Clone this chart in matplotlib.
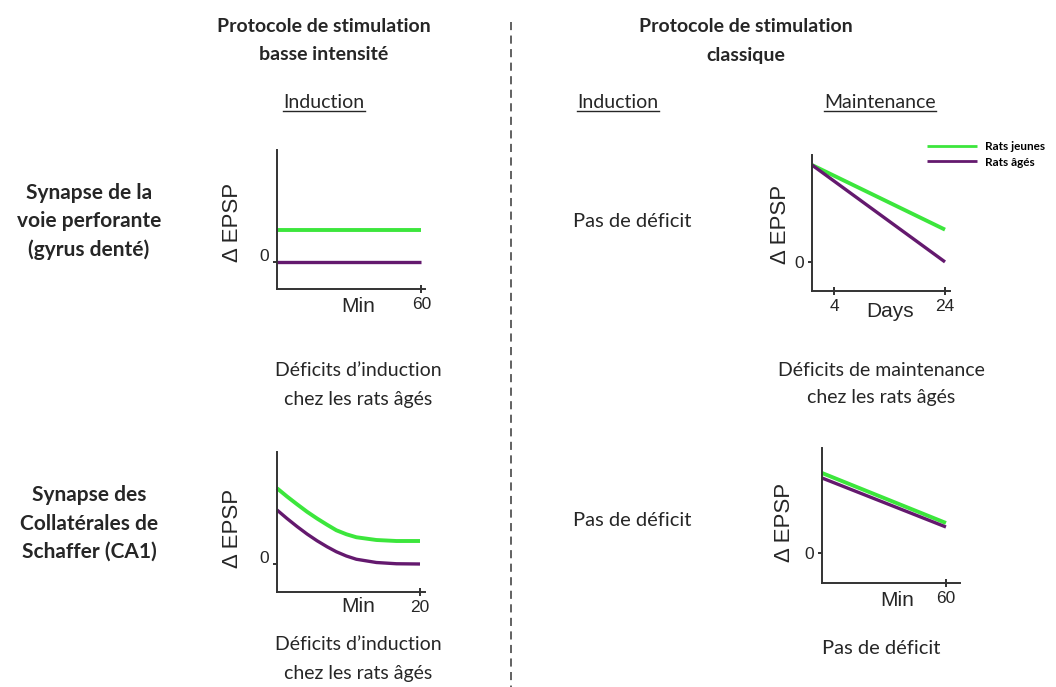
import matplotlib
matplotlib.use('Agg')
import matplotlib.pyplot as plt
from matplotlib.lines import Line2D
from matplotlib.transforms import ScaledTranslation

# Données (unités arbitraires de Δ EPSP)
p1_min = [0, 60]
p1_jeunes = [1.0, 1.0]
p1_ages = [0.0, 0.0]

p2_jours = [0, 24]
p2_jeunes = [3.0, 1.0]
p2_ages = [3.0, 0.0]

p3_min = [0, 1.4, 2.8, 4.2, 5.6, 7.0, 8.3, 9.7, 11.1, 13.9, 16.7, 20]
p3_jeunes = [3.03, 2.70, 2.39, 2.09, 1.82, 1.57, 1.35, 1.19, 1.07, 0.96, 0.92, 0.92]
p3_ages = [2.16, 1.82, 1.50, 1.20, 0.93, 0.69, 0.49, 0.32, 0.19, 0.06, 0.01, 0.0]

p4_min = [0, 60]
p4_jeunes = [3.2, 1.2]
p4_ages = [3.0, 1.04]

legende = ['Rats jeunes', 'Rats âgés']

VERT = '#3ce63c'
VIOLET = '#64196e'
AXE = '#333333'
TXT = '#262626'

W, H = 1056, 687
plt.rcParams['font.family'] = ['Liberation Sans', 'DejaVu Sans']
fig = plt.figure(figsize=(W / 100, H / 100), dpi=100)


def fx(px):
    return px / W


def fy(py):
    return 1 - py / H


def panneau(l, t, r, b, x, jeunes, ages, xlim, ylim, xticks, xlab, xlab_pos, dy0=0):
    ax = fig.add_axes([fx(l), fy(b), (r - l) / W, (b - t) / H])
    ax.plot(x, jeunes, color=VERT, lw=2.8, clip_on=False, solid_capstyle='butt')
    ax.plot(x, ages, color=VIOLET, lw=2.4, clip_on=False, solid_capstyle='butt')
    ax.set_xlim(*xlim)
    ax.set_ylim(*ylim)
    ax.set_facecolor('none')
    for s in ['top', 'right']:
        ax.spines[s].set_visible(False)
    for s in ['left', 'bottom']:
        ax.spines[s].set_color(AXE)
        ax.spines[s].set_linewidth(1.4)
    ax.set_xticks(xticks)
    ax.set_yticks([0])
    ax.tick_params(axis='x', direction='inout', length=6, width=1.4, color=AXE,
                   labelsize=12.5, labelcolor=TXT, pad=3)
    ax.tick_params(axis='y', direction='out', length=3, width=1.4, color=AXE,
                   labelsize=12.5, labelcolor=TXT, pad=3)
    if dy0:
        off = ScaledTranslation(0, dy0 / 100, fig.dpi_scale_trans)
        for lab in ax.get_yticklabels():
            lab.set_transform(lab.get_transform() + off)
    fig.text(fx(xlab_pos[0]), fy(xlab_pos[1]), xlab, ha='center', va='center',
             fontsize=15, color=TXT)
    return ax


ax1 = panneau(277, 150, 425, 289, p1_min, p1_jeunes, p1_ages, (0, 61.5), (-0.84, 3.5),
              [60], 'Min', (358, 307), dy0=7)
ax2 = panneau(812, 155, 950, 291, p2_jours, p2_jeunes, p2_ages, (0, 24.9), (-0.9, 3.31),
              [4, 24], 'Days', (890, 312))
ax3 = panneau(277, 452, 425, 592, p3_min, p3_jeunes, p3_ages, (0, 20.7), (-1.12, 4.48),
              [20], 'Min', (358, 607), dy0=7)
ax4 = panneau(822, 448, 960, 583, p4_min, p4_jeunes, p4_ages, (0, 66.8), (-1.2, 4.2),
              [60], 'Min', (897, 600))

for (x, y) in [(232, 222), (781, 224), (232, 528), (784, 522)]:
    fig.text(fx(x), fy(y), 'Δ EPSP', rotation=90, ha='center', va='center',
             fontsize=16, color=TXT)

# légende
leg = ax2.legend(ax2.get_lines(), legende, loc='center left',
                 bbox_to_anchor=(fx(927), fy(154.5)), bbox_transform=fig.transFigure,
                 frameon=False, prop={'family': 'Lato', 'weight': 'bold', 'size': 8.5},
                 handlelength=4.2, handletextpad=0.7, labelspacing=0.35,
                 borderpad=0, borderaxespad=0)
for h in leg.get_lines():
    h.set_linewidth(2.0)

# séparateur en pointillés
fig.add_artist(Line2D([fx(511), fx(511)], [fy(22), fy(687)], transform=fig.transFigure,
                      color='#555555', lw=1.3, linestyle=(0, (4.5, 3))))

POLICE = ['Lato', 'DejaVu Sans']


def lignes(x, y0, pas, textes, **kw):
    for i, t in enumerate(textes):
        fig.text(fx(x), fy(y0 + i * pas), t, ha='center', va='center',
                 family=POLICE, color=TXT, **kw)


lignes(324, 27, 28, ['Protocole de stimulation', 'basse intensité'], fontsize=14, weight='bold')
lignes(746, 27, 28, ['Protocole de stimulation', 'classique'], fontsize=14, weight='bold')
lignes(89, 193, 28.5, ['Synapse de la', 'voie perforante', '(gyrus denté)'], fontsize=15, weight='bold')
lignes(89, 495, 28.5, ['Synapse des', 'Collatérales de', 'Schaffer (CA1)'], fontsize=15, weight='bold')

lignes(632, 221, 28, ['Pas de déficit'], fontsize=14.5)
lignes(632, 520, 28, ['Pas de déficit'], fontsize=14.5)
lignes(358, 371, 28, ['Déficits d’induction', 'chez les rats âgés'], fontsize=14)
lignes(358, 645, 28, ['Déficits d’induction', 'chez les rats âgés'], fontsize=14)
lignes(881, 370, 28, ['Déficits de maintenance', 'chez les rats âgés'], fontsize=14)
lignes(881, 648, 28, ['Pas de déficit'], fontsize=14.5)

# titres soulignés
soulignes = []
for (x, t) in [(324, 'Induction'), (618, 'Induction'), (880, 'Maintenance')]:
    soulignes.append(fig.text(fx(x), fy(103), t, ha='center', va='center',
                              family=POLICE, fontsize=14, color=TXT))

fig.canvas.draw()
rend = fig.canvas.get_renderer()
for t in soulignes:
    bb = t.get_window_extent(rend)
    yb = bb.y0 + 1
    fig.add_artist(Line2D([bb.x0 / W, bb.x1 / W], [yb / H, yb / H],
                          transform=fig.transFigure, color=TXT, lw=1.0))

fig.savefig('out.png', dpi=100, facecolor='white')
